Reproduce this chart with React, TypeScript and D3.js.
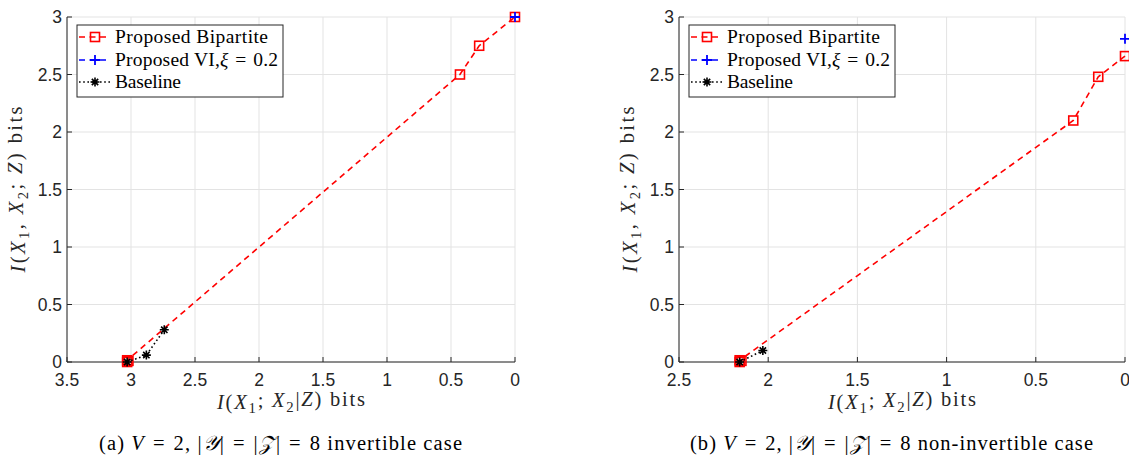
import React from 'react';
import * as d3 from 'd3';

// panel (a): invertible case
const bipartiteA: [number, number][] = [[3.03, 0], [3.02, 0.01], [3.03, 0.015], [0.43, 2.5], [0.28, 2.75], [0, 3]];
const viA: [number, number][] = [[0, 3]];
const baselineA: [number, number][] = [[3.03, 0], [2.88, 0.06], [2.74, 0.28]];
const xTicksA = [3.5, 3, 2.5, 2, 1.5, 1, 0.5, 0];

// panel (b): non-invertible case
const bipartiteB: [number, number][] = [[2.16, 0], [2.15, 0.01], [2.16, 0.015], [0.29, 2.1], [0.15, 2.48], [0, 2.66]];
const viB: [number, number][] = [[0, 2.81]];
const baselineB: [number, number][] = [[2.16, 0], [2.03, 0.1]];
const xTicksB = [2.5, 2, 1.5, 1, 0.5, 0];

const yTicks = [0, 0.5, 1, 1.5, 2, 2.5, 3];

const serif = '"Liberation Serif", "DejaVu Serif", serif';
const sans = '"Liberation Sans", Arial, sans-serif';
const RED = '#ff0000';
const BLUE = '#0000ff';
const SP = '\u2005';   // thin-ish math space
const EQ = '\u2004=\u2004';

const Square = ({ x, y }: { x: number; y: number }) => (
  <rect x={x - 4.5} y={y - 4.5} width={9} height={9} fill="none" stroke={RED} strokeWidth={1.6} />
);
const Plus = ({ x, y }: { x: number; y: number }) => (
  <path d={`M${x - 5},${y}H${x + 5}M${x},${y - 5}V${y + 5}`} stroke={BLUE} strokeWidth={1.8} />
);
const Star = ({ x, y }: { x: number; y: number }) => {
  const r = 4.5, k = r * 0.7071;
  return (
    <path
      d={`M${x - r},${y}H${x + r}M${x},${y - r}V${y + r}M${x - k},${y - k}L${x + k},${y + k}M${x - k},${y + k}L${x + k},${y - k}`}
      stroke="#000" strokeWidth={1.6}
    />
  );
};

const Sub = ({ children }: { children: string }) => (
  <tspan fontSize="0.72em" dy="0.28em">{children}</tspan>
);

function Panel({
  left, right, xMax, xTicks, bip, vi, base, caption, capLen, capX,
}: {
  left: number; right: number; xMax: number; xTicks: number[];
  bip: [number, number][]; vi: [number, number][]; base: [number, number][];
  caption: React.ReactNode; capLen: number; capX: number;
}) {
  const top = 17, bottom = 362;
  const x = d3.scaleLinear().domain([xMax, 0]).range([left, right]);
  const y = d3.scaleLinear().domain([0, 3]).range([bottom, top]);
  const line = d3.line<[number, number]>().x(d => x(d[0])).y(d => y(d[1]));
  const cx = (left + right) / 2;
  const cy = (top + bottom) / 2;
  const lx = left + 10;
  const rows = [37, 60, 82];
  const tx = lx + 38;
  return (
    <g>
      {/* grid */}
      {xTicks.map(t => (
        <line key={'gx' + t} x1={x(t)} x2={x(t)} y1={top} y2={bottom} stroke="#e3e3e3" strokeWidth={1} />
      ))}
      {yTicks.map(t => (
        <line key={'gy' + t} x1={left} x2={right} y1={y(t)} y2={y(t)} stroke="#e3e3e3" strokeWidth={1} />
      ))}
      {/* axes */}
      <line x1={left} x2={left} y1={top} y2={bottom} stroke="#262626" strokeWidth={1} />
      <line x1={left} x2={right} y1={bottom} y2={bottom} stroke="#262626" strokeWidth={1} />
      {xTicks.map(t => (
        <g key={'tx' + t}>
          <line x1={x(t)} x2={x(t)} y1={bottom} y2={bottom - 5} stroke="#262626" />
          <text x={x(t)} y={386} textAnchor="middle" fontFamily={sans} fontSize={17.5} fill="#262626">{t}</text>
        </g>
      ))}
      {yTicks.map(t => (
        <g key={'ty' + t}>
          <line x1={left} x2={left + 5} y1={y(t)} y2={y(t)} stroke="#262626" />
          <text x={left - 5} y={y(t) + 6} textAnchor="end" fontFamily={sans} fontSize={17.5} fill="#262626">{t}</text>
        </g>
      ))}
      {/* series */}
      <path d={line(bip) || ''} fill="none" stroke={RED} strokeWidth={1.6} strokeDasharray="6,4.5" />
      {bip.map((d, i) => <Square key={'s' + i} x={x(d[0])} y={y(d[1])} />)}
      <path d={line(vi) || ''} fill="none" stroke={BLUE} strokeWidth={1.6} strokeDasharray="6,4.5" />
      {vi.map((d, i) => <Plus key={'p' + i} x={x(d[0])} y={y(d[1])} />)}
      <path d={line(base) || ''} fill="none" stroke="#000" strokeWidth={1.6} strokeDasharray="1.6,2.6" />
      {base.map((d, i) => <Star key={'a' + i} x={x(d[0])} y={y(d[1])} />)}
      {/* legend */}
      <rect x={lx} y={25} width={206} height={72} fill="#fff" stroke="#262626" strokeWidth={1} />
      <line x1={lx + 2} x2={lx + 33} y1={rows[0]} y2={rows[0]} stroke={RED} strokeWidth={1.6} strokeDasharray="6,4.5" />
      <Square x={lx + 18} y={rows[0]} />
      <line x1={lx + 2} x2={lx + 33} y1={rows[1]} y2={rows[1]} stroke={BLUE} strokeWidth={1.6} strokeDasharray="6,4.5" />
      <Plus x={lx + 18} y={rows[1]} />
      <line x1={lx + 2} x2={lx + 33} y1={rows[2]} y2={rows[2]} stroke="#000" strokeWidth={1.6} strokeDasharray="1.6,2.6" />
      <Star x={lx + 18} y={rows[2]} />
      <text x={tx} y={rows[0] + 6} fontFamily={serif} fontSize={19.5} textLength={153} lengthAdjust="spacing">Proposed Bipartite</text>
      <text x={tx} y={rows[1] + 6} fontFamily={serif} fontSize={19.5} textLength={163} lengthAdjust="spacing">
        Proposed VI,<tspan fontStyle="italic">ξ</tspan>{EQ}0.2
      </text>
      <text x={tx} y={rows[2] + 6} fontFamily={serif} fontSize={19.5} textLength={66} lengthAdjust="spacing">Baseline</text>
      {/* axis labels */}
      <text x={cx - 74} y={409} fontFamily={serif} fontSize={20.5} fill="#262626" textLength={148} lengthAdjust="spacing">
        <tspan fontStyle="italic">I</tspan>(<tspan fontStyle="italic">X</tspan><Sub>1</Sub>
        <tspan dy="-0.28em">;{SP}</tspan><tspan fontStyle="italic">X</tspan><Sub>2</Sub>
        <tspan dy="-0.28em">|</tspan><tspan fontStyle="italic">Z</tspan>) bits
      </text>
      <text transform={`translate(${left - 42},${cy + 83}) rotate(-90)`} fontFamily={serif} fontSize={20.5} fill="#262626" textLength={166} lengthAdjust="spacing">
        <tspan fontStyle="italic">I</tspan>(<tspan fontStyle="italic">X</tspan><Sub>1</Sub>
        <tspan dy="-0.28em">,{SP}</tspan><tspan fontStyle="italic">X</tspan><Sub>2</Sub>
        <tspan dy="-0.28em">;{SP}</tspan><tspan fontStyle="italic">Z</tspan>) bits
      </text>
      <text x={capX} y={450} fontFamily={serif} fontSize={20.5} fill="#000" textLength={capLen} lengthAdjust="spacing">{caption}</text>
    </g>
  );
}

const Caption = ({ tag, kind }: { tag: string; kind: string }) => (
  <>
    ({tag}) <tspan fontStyle="italic">V</tspan>{EQ}2,{SP}|<tspan fontStyle="italic">𝒴</tspan>|{EQ}|<tspan fontStyle="italic">𝒵</tspan>|{EQ}8 {kind}
  </>
);

export default function App() {
  return (
    <svg width={1129} height={455} style={{ position: 'absolute', left: 0, top: 0, background: '#fff' }}>
      <Panel left={67} right={515} xMax={3.5} xTicks={xTicksA} bip={bipartiteA} vi={viA} base={baselineA}
        caption={<Caption tag="a" kind="invertible case" />} capX={99} capLen={363} />
      <Panel left={679} right={1125} xMax={2.5} xTicks={xTicksB} bip={bipartiteB} vi={viB} base={baselineB}
        caption={<Caption tag="b" kind="non-invertible case" />} capX={690} capLen={403} />
    </svg>
  );
}
